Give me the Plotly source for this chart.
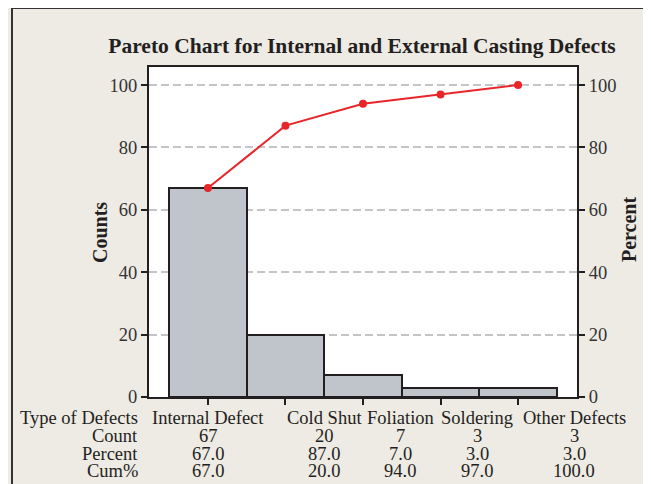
import plotly.graph_objects as go

# ---- data ----
categories = ["Internal Defect", "Cold Shut", "Foliation", "Soldering", "Other Defects"]
counts = [67, 20, 7, 3, 3]
cum_percent_line = [67.0, 87.0, 94.0, 97.0, 100.0]
table_count = ["67", "20", "7", "3", "3"]
table_percent = ["67.0", "87.0", "7.0", "3.0", "3.0"]
table_cum = ["67.0", "20.0", "94.0", "97.0", "100.0"]
row_headers = ["Type of Defects", "Count", "Percent", "Cum%"]
y_ticks = [0, 20, 40, 60, 80, 100]

# ---- layout constants (pixels, in the reference picture) ----
OFF = 8                      # page body margin of the browser
W, H = 651 - OFF, 484 - OFF  # figure size
PL, PT, PR, PB = 149, 67, 577, 397   # plot area edges in page pixels
L, T = PL - OFF, PT - OFF
R, B = W - (PR - OFF), H - (PB - OFF)
PW, PH = W - L - R, H - T - B
BG = "#EEEAE4"
DARK = "#231F20"
FONT = "Liberation Serif"

def px_x(px):
    return (px - PL) / PW

def px_y(py):
    return (PB - py) / PH

x_idx = list(range(len(categories)))

fig = go.Figure()
fig.add_trace(go.Bar(
    x=x_idx, y=counts, width=1.0,
    marker=dict(color="#C0C4CB", line=dict(color=DARK, width=2)),
    showlegend=False, hoverinfo="skip",
))
fig.add_trace(go.Scatter(
    x=x_idx, y=cum_percent_line, yaxis="y2", mode="lines+markers",
    line=dict(color="#E8262A", width=2),
    marker=dict(color="#E8262A", size=8),
    showlegend=False, hoverinfo="skip",
))

yr = [0, 105.8]
axis_common = dict(
    range=yr, tickvals=y_ticks, ticks="outside", ticklen=6, tickwidth=2,
    tickcolor=DARK, showline=True, linecolor=DARK, linewidth=2,
    tickfont=dict(family=FONT, size=18.5, color="#333333"), zeroline=False,
)
fig.update_layout(
    width=W, height=H,
    margin=dict(l=L, r=R, t=T, b=B, pad=0),
    paper_bgcolor=BG, plot_bgcolor="white",
    bargap=0,
    title=dict(
        text="<b>Pareto Chart for Internal and External Casting Defects</b>",
        x=(362 - OFF) / W, xanchor="center", y=1 - (45 - OFF) / H,
        yanchor="middle", yref="container",
        font=dict(family=FONT, size=21.5, color=DARK),
    ),
    xaxis=dict(
        range=[-0.76, 4.76], tickvals=x_idx, ticktext=[""] * len(x_idx),
        ticks="outside", ticklen=6, tickwidth=2, tickcolor=DARK,
        showline=True, linecolor=DARK, linewidth=2, mirror=True,
        showgrid=False, zeroline=False,
    ),
    yaxis=dict(
        **axis_common, showgrid=True, gridcolor="#C2C4C8", gridwidth=1.5,
        griddash="8px,4px",
    ),
    yaxis2=dict(
        **axis_common, overlaying="y", side="right", showgrid=False,
    ),
)

# outer frame
fig.add_shape(type="rect", xref="paper", yref="paper",
              x0=px_x(12), x1=px_x(700), y0=px_y(540), y1=px_y(8),
              line=dict(color="#333333", width=2), fillcolor="rgba(0,0,0,0)",
              layer="below")

# axis titles
fig.add_annotation(text="<b>Counts</b>", xref="paper", yref="paper",
                   x=px_x(100), y=px_y(233), textangle=-90, showarrow=False,
                   xanchor="center", yanchor="middle",
                   font=dict(family=FONT, size=20, color=DARK))
fig.add_annotation(text="<b>Percent</b>", xref="paper", yref="paper",
                   x=px_x(629), y=px_y(230), textangle=-90, showarrow=False,
                   xanchor="center", yanchor="middle",
                   font=dict(family=FONT, size=20, color=DARK))

# table beneath the axis
col_px = [208, 324, 400, 477, 574]
row_py = [418, 436, 454, 471]
tfont = dict(family=FONT, size=18.5, color=DARK)
for i, hdr in enumerate(row_headers):
    fig.add_annotation(text=hdr, xref="paper", yref="paper",
                       x=px_x(140), y=px_y(row_py[i]), xanchor="right",
                       yanchor="middle", showarrow=False, font=tfont)
rows = [categories, table_count, table_percent, table_cum]
for r, vals in enumerate(rows):
    for c, v in enumerate(vals):
        fig.add_annotation(text=v, xref="paper", yref="paper",
                           x=px_x(col_px[c]), y=px_y(row_py[r]),
                           xanchor="center", yanchor="middle",
                           showarrow=False, font=tfont)

fig.write_html("out.html")
